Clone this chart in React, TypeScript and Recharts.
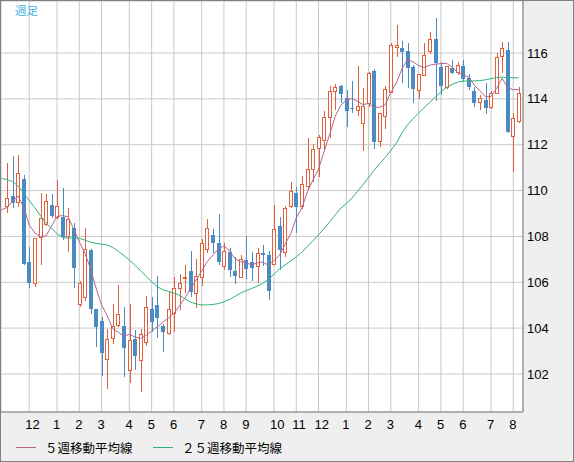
import React from 'react';
import { ComposedChart, Bar, Line, XAxis, YAxis, CartesianGrid } from 'recharts';

// Weekly candles (week index 0..92)
const openP = [
  109.30, 109.76, 109.47, 110.49, 106.87, 105.91, 107.92, 108.50, 109.37, 108.79,
  108.83, 107.96, 108.35, 104.99, 105.30, 107.41, 104.82, 104.31, 102.61, 103.53,
  104.11, 104.09, 102.13, 103.53, 102.57, 103.34, 104.82, 105.01, 104.11, 103.73,
  104.60, 105.69, 106.13, 106.49, 105.48, 106.17, 107.41, 108.06, 107.70, 106.68,
  107.33, 106.49, 106.20, 106.97, 106.87, 106.65, 107.26, 107.19, 106.75, 108.45,
  107.29, 109.27, 109.91, 109.30, 110.14, 110.90, 111.80, 112.17, 113.15, 114.28,
  114.56, 114.02, 113.59, 113.47, 112.89, 113.76, 115.21, 112.13, 113.22, 114.24,
  116.20, 116.20, 116.09, 115.40, 114.35, 115.01, 116.06, 116.61, 115.40, 114.49,
  115.33, 115.11, 115.43, 114.90, 114.34, 113.81, 113.95, 113.59, 114.21, 115.81,
  116.13, 112.32, 113.00,
];
const highP = [
  111.21, 111.51, 111.55, 110.68, 107.55, 107.95, 109.91, 109.84, 109.84, 110.46,
  110.12, 109.23, 108.57, 106.05, 108.35, 107.44, 104.85, 104.47, 103.98, 105.05,
  105.88, 104.91, 105.05, 103.92, 103.98, 105.40, 105.37, 106.27, 104.20, 105.59,
  106.22, 106.36, 106.75, 107.36, 107.00, 107.87, 108.75, 108.32, 108.98, 107.70,
  107.48, 107.12, 107.19, 108.02, 107.33, 107.48, 107.63, 107.38, 109.37, 108.83,
  109.33, 110.36, 110.15, 110.65, 112.30, 112.03, 112.42, 113.48, 114.56, 114.65,
  114.60, 114.39, 114.79, 115.43, 114.46, 115.18, 115.29, 113.40, 114.56, 116.42,
  117.22, 116.52, 116.42, 115.48, 115.10, 116.42, 116.93, 117.51, 115.62, 115.45,
  115.70, 115.59, 115.69, 115.10, 114.50, 114.17, 114.70, 114.35, 116.01, 116.47,
  116.47, 113.37, 114.50,
];
const lowP = [
  109.01, 109.23, 109.30, 106.75, 105.76, 105.80, 106.75, 108.45, 108.79, 108.76,
  107.84, 107.33, 105.74, 104.93, 105.20, 104.62, 103.19, 101.93, 101.36, 103.30,
  104.05, 101.86, 101.59, 102.17, 101.23, 103.22, 103.84, 103.58, 102.97, 103.70,
  103.84, 104.79, 105.55, 105.37, 104.88, 105.84, 107.26, 107.29, 106.75, 106.54,
  106.24, 105.92, 106.17, 106.13, 106.06, 105.98, 106.71, 105.23, 106.75, 106.54,
  107.10, 109.24, 108.16, 109.18, 110.02, 110.39, 110.58, 111.77, 112.28, 113.51,
  113.81, 112.76, 113.39, 113.25, 111.74, 113.66, 111.80, 111.89, 112.67, 114.24,
  115.84, 114.70, 114.46, 113.83, 113.98, 115.00, 115.94, 113.91, 114.17, 114.45,
  115.10, 115.04, 114.78, 114.39, 113.63, 113.51, 113.34, 113.54, 114.20, 115.11,
  112.50, 110.82, 112.95,
];
const closeP = [
  109.66, 109.44, 110.75, 106.80, 105.95, 107.92, 108.79, 109.54, 108.90, 109.33,
  107.99, 108.75, 106.64, 105.96, 107.44, 104.82, 104.06, 102.90, 103.51, 104.11,
  104.60, 103.12, 103.48, 102.78, 103.74, 104.93, 104.28, 104.46, 103.82, 104.82,
  105.74, 105.95, 106.24, 105.59, 106.27, 107.70, 108.35, 107.73, 106.90, 107.38,
  106.54, 106.29, 107.00, 106.57, 106.61, 107.29, 107.19, 105.62, 108.32, 107.41,
  109.23, 109.98, 109.30, 110.29, 110.93, 111.80, 112.35, 113.19, 114.35, 114.50,
  114.21, 113.48, 113.56, 113.70, 113.69, 115.14, 112.13, 113.37, 114.43, 116.35,
  116.35, 116.06, 115.36, 114.43, 115.07, 115.91, 116.60, 115.55, 114.56, 115.43,
  115.11, 115.48, 114.87, 114.53, 113.81, 114.02, 113.59, 114.24, 115.84, 116.20,
  112.57, 113.15, 114.27,
];
// Moving averages, starting one week before the first visible candle (week -1..92)
const ma5 = [
  109.16, 109.26, 109.54, 109.76, 109.28, 108.50, 108.15, 108.00, 108.02, 108.45,
  108.87, 108.91, 108.85, 108.32, 107.76, 107.28, 106.60, 105.75, 105.01, 104.55,
  103.98, 103.82, 103.65, 103.73, 103.61, 103.55, 103.68, 103.88, 104.05, 104.25,
  104.44, 104.64, 104.97, 105.32, 105.72, 106.10, 106.50, 106.90, 107.18, 107.45,
  107.58, 107.38, 107.02, 106.90, 106.85, 106.75, 106.85, 106.88, 106.74, 106.95,
  107.18, 107.66, 108.12, 108.80, 109.24, 109.95, 110.46, 110.93, 111.71, 112.45,
  113.24, 113.72, 113.95, 114.02, 113.89, 113.75, 113.80, 113.64, 113.63, 113.75,
  114.28, 114.70, 115.31, 115.71, 115.62, 115.45, 115.37, 115.47, 115.51, 115.54,
  115.55, 115.40, 115.15, 115.05, 114.95, 114.60, 114.35, 114.10, 114.10, 114.45,
  114.90, 114.49, 114.40, 114.41,
];
const ma25 = [
  110.53, 110.48, 110.39, 110.20, 109.89, 109.56, 109.26, 108.91, 108.60, 108.35,
  108.12, 107.95, 107.93, 107.93, 107.92, 107.84, 107.75, 107.70, 107.66, 107.63,
  107.52, 107.35, 107.17, 106.97, 106.74, 106.51, 106.26, 106.02, 105.81, 105.67,
  105.61, 105.52, 105.43, 105.28, 105.13, 105.06, 105.01, 105.01, 105.03, 105.07,
  105.15, 105.25, 105.39, 105.53, 105.63, 105.73, 105.83, 105.96, 106.13, 106.35,
  106.59, 106.76, 106.92, 107.11, 107.31, 107.56, 107.81, 108.07, 108.34, 108.63,
  108.94, 109.23, 109.44, 109.67, 109.96, 110.26, 110.57, 110.89, 111.18, 111.44,
  111.75, 112.07, 112.51, 112.86, 113.14, 113.38, 113.62, 113.85, 114.08, 114.30,
  114.49, 114.63, 114.73, 114.77, 114.79, 114.78, 114.80, 114.83, 114.88, 114.93,
  114.95, 114.92, 114.92, 114.92,
];
const monthTickWeeks = [4, 9, 13, 17, 22, 26, 30, 35, 39, 43, 48, 52, 56, 61, 65, 69, 74, 78, 82, 87, 91];
const monthLabels = ['12', '1', '2', '3', '4', '5', '6', '7', '8', '9', '10', '11', '12', '1', '2', '3', '4', '5', '6', '7', '8'];
const priceTicks = [102, 104, 106, 108, 110, 112, 114, 116];
const legendLabels = ['５週移動平均線', '２５週移動平均線'];
const titleLabel = '週足';

const UP = '#e0603c';
const DOWN = '#4b8bc3';
const PINK = '#b5648d';
const GREEN = '#2fb37c';
const LATIN = '"Liberation Sans", Arial, sans-serif';
const CJK = '"Noto Sans CJK JP", sans-serif';

const data = ma5.map((m, k) => {
  const i = k - 1;
  const has = i >= 0 && i < openP.length;
  return {
    i,
    o: has ? openP[i] : null,
    h: has ? highP[i] : null,
    l: has ? lowP[i] : null,
    c: has ? closeP[i] : null,
    ma5: m,
    ma25: ma25[k],
  };
});

const Candle = (props: any) => {
  const { x, y, width, height, payload } = props;
  if (!payload || payload.h == null || !isFinite(y) || !isFinite(height)) return null;
  const { o, h, l, c } = payload;
  const top = Math.min(y, y + height);
  const hh = Math.abs(height);
  const ppu = hh / (h - l || 1);
  const cx = Math.round(x + width / 2);
  const yHigh = Math.round(top);
  const yLow = Math.round(top + hh);
  const yTop = Math.round(top + (h - Math.max(o, c)) * ppu);
  const yBot = Math.round(top + (h - Math.min(o, c)) * ppu);
  const up = c >= o;
  const color = up ? UP : DOWN;
  return (
    <g>
      <line x1={cx + 0.5} x2={cx + 0.5} y1={yHigh} y2={yLow} stroke={color} strokeWidth={1} shapeRendering="crispEdges" />
      {up ? (
        <rect x={cx - 1.5} y={yTop + 0.5} width={3} height={Math.max(yBot - yTop - 1, 1)} fill="#fff" stroke={color} strokeWidth={1} shapeRendering="crispEdges" />
      ) : (
        <rect x={cx - 2} y={yTop} width={4} height={Math.max(yBot - yTop, 1)} fill={color} shapeRendering="crispEdges" />
      )}
    </g>
  );
};

const MonthTick = (props: any) => {
  const { x, y, payload } = props;
  const idx = monthTickWeeks.indexOf(payload.value);
  const label = idx >= 0 ? monthLabels[idx] : '';
  return (
    <text x={x - 4} y={y} dy="0.71em" textAnchor="start" fontSize={13} fontFamily={LATIN} fill="#000">
      {label}
    </text>
  );
};

export default function App() {
  return (
    <div style={{ position: 'absolute', left: 0, top: 0, width: 574, height: 462, background: '#efefef', overflow: 'hidden' }}>
      <ComposedChart
        width={574}
        height={462}
        data={data}
        margin={{ top: 1, right: 1, bottom: 1, left: 1 }}
        style={{ fontFamily: LATIN }}
      >
        <CartesianGrid stroke="#c8c8c8" fill="#ffffff" strokeWidth={1} />
        <XAxis
          dataKey="i"
          type="number"
          domain={[-1.08, 92.76]}
          allowDataOverflow
          ticks={monthTickWeeks}
          interval={0}
          tickLine={false}
          tickSize={0}
          tickMargin={8}
          axisLine={{ stroke: '#808080' }}
          height={49}
          tick={<MonthTick />}
        />
        <YAxis
          orientation="right"
          domain={[100.34, 118.27]}
          allowDataOverflow
          ticks={priceTicks}
          interval={0}
          tickLine={false}
          tickSize={0}
          tickMargin={4}
          axisLine={{ stroke: '#808080' }}
          width={50}
          tick={{ fontSize: 13, fill: '#000', fontFamily: LATIN }}
        />
        <Bar
          dataKey={(d: any) => (d.h == null ? null : [d.l, d.h])}
          barSize={4}
          shape={<Candle />}
          isAnimationActive={false}
        />
        <Line type="linear" dataKey="ma25" stroke={GREEN} strokeWidth={1} dot={false} activeDot={false} isAnimationActive={false} />
        <Line type="linear" dataKey="ma5" stroke={PINK} strokeWidth={1} dot={false} activeDot={false} isAnimationActive={false} />
      </ComposedChart>
      <div style={{ position: 'absolute', left: 15, top: 4, fontSize: 11.5, lineHeight: '12px', color: '#3ab0e6', fontFamily: CJK }}>
        {titleLabel}
      </div>
      <div style={{ position: 'absolute', left: 16, top: 447, width: 20, height: 1, background: PINK }} />
      <div style={{ position: 'absolute', left: 45, top: 441, fontSize: 12.5, lineHeight: '13px', color: '#000', fontFamily: CJK, whiteSpace: 'nowrap' }}>
        {legendLabels[0]}
      </div>
      <div style={{ position: 'absolute', left: 153, top: 447, width: 20, height: 1, background: GREEN }} />
      <div style={{ position: 'absolute', left: 182, top: 441, fontSize: 12.5, lineHeight: '13px', color: '#000', fontFamily: CJK, whiteSpace: 'nowrap' }}>
        {legendLabels[1]}
      </div>
      <div style={{ position: 'absolute', left: 0, top: 0, width: 574, height: 462, boxSizing: 'border-box', border: '1px solid #808080', pointerEvents: 'none' }} />
    </div>
  );
}
